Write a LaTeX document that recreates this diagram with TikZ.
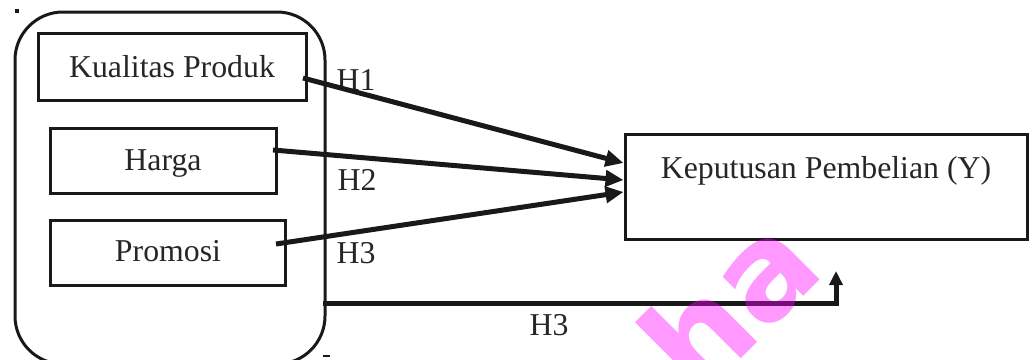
\documentclass[tikz,border=0pt]{standalone}
\usepackage{fontspec}
\setmainfont{Liberation Serif}
\newfontfamily\wmfont{DejaVu Sans}
\usetikzlibrary{arrows.meta}
\definecolor{wmcol}{RGB}{255,0,255}
\begin{document}
\begin{tikzpicture}[x=1pt,y=-1pt,
  box/.style={draw=black!90,line width=3pt,inner sep=0pt,minimum width=#1},
  lbl/.style={inner sep=0pt,anchor=base,font=\fontsize{31.8}{36}\selectfont,text=black!85},
  harrow/.style={line width=5pt,draw=black!90,-{Triangle[length=18pt,width=16pt]}},
  ]
\useasboundingbox (0,0) rectangle (1032,359);
\begin{scope}
\clip (0,0) rectangle (1032,359);
% outer rounded group
\draw[line width=3pt,draw=black!90,rounded corners=48pt] (15,12) rectangle (325,364);
% small marks
\fill[black!90] (15,9) rectangle (19,13);
\draw[line width=1.5pt,black!90] (323,356) -- (330,356);
% boxes
\node[box=268pt,minimum height=67pt] (kp) at (172,66.5) {};
\node[box=226pt,minimum height=65pt] (hg) at (163,160.5) {};
\node[box=235pt,minimum height=65pt] (pr) at (167.5,252.5) {};
\node[box=402pt,minimum height=105pt] (kpy) at (826,187) {};
% texts
\node[lbl] (tkp) at (172,77) {Kualitas Produk};
\node[lbl] (thg) at (163,170) {Harga};
\node[lbl] (tpr) at (168,261) {Promosi};
\node[lbl] (tkpy) at (826,178) {Keputusan Pembelian (Y)};
\node[lbl] (h1) at (356,90) {H1};
\node[lbl] (h2) at (357,190) {H2};
\node[lbl] (h3) at (356,263) {H3};
\node[lbl] (h3b) at (549,335) {H3};
% connectors
\coordinate (s1) at (303,78);
\coordinate (s2) at (273,150);
\coordinate (s3) at (276,244);
\coordinate (e1) at (kpy.west |- 0,163);
\coordinate (e2) at (kpy.west |- 0,180);
\coordinate (e3) at (kpy.west |- 0,192);
\draw[harrow] (s1) -- (e1);
\draw[harrow] (s2) -- (e2);
\draw[harrow] (s3) -- (e3);
\coordinate (b0) at (323,303);
\coordinate (b1) at (836,303);
\coordinate (b2) at (836,271);
\draw[line width=5pt,draw=black!90,-{Triangle[length=14pt,width=13pt]}] (b0) -- (b1) -- (b2);
% watermark
\node[text=wmcol,opacity=0.4,rotate=45,inner sep=0pt,font=\wmfont\bfseries\fontsize{132}{132}\selectfont] (wm) at (728,302) {ha};
\end{scope}
\end{tikzpicture}
\end{document}
